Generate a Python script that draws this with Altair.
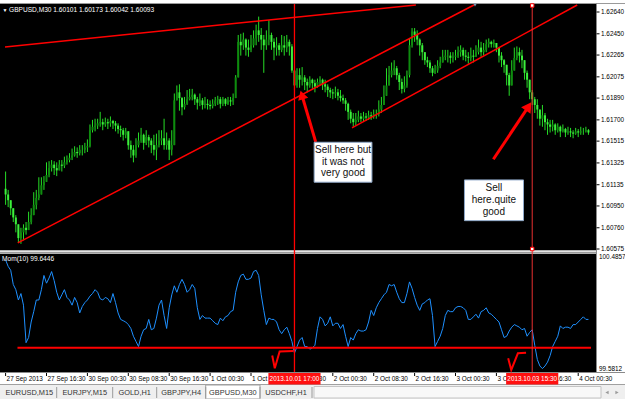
import altair as alt
import pandas as pd

# ---------------- data (prices in pips above 1.60000) ----------------
close_pips = [105,100,93,85,79,67,72,76,74,81,87,96,102,105,113,116,122,128,131,128,126,131,130,133,135,137,139,142,141,144,
              144,146,147,161,164,165,167,168,166,168,167,169,167,165,162,161,157,160,148,144,139,148,152,157,150,155,152,148,
              144,148,152,154,148,152,144,148,187,194,189,181,184,188,190,192,188,185,187,183,184,183,182,184,187,188,184,188,
              184,187,186,189,207,238,235,240,233,231,235,241,248,244,240,235,240,244,238,233,235,231,235,233,238,234,213,200,209,
              205,207,203,200,205,202,199,203,205,201,199,196,194,193,194,191,189,187,184,177,171,168,170,173,171,173,172,174,173,
              175,175,179,183,191,200,209,213,215,209,203,197,200,209,235,247,244,240,235,229,222,220,215,211,213,217,220,225,226,
              226,224,225,226,229,231,226,225,224,226,225,229,233,229,231,236,238,236,237,233,226,222,218,209,200,213,224,229,226,
              222,211,205,194,188,183,179,171,174,168,166,164,166,161,164,160,162,159,160,159,158,160,159,160,160,161,159]
high_pips = [125,109,100,92,87,79,76,79,81,90,93,107,109,120,120,121,133,134,135,134,133,135,135,138,139,141,145,147,146,148,
             148,150,153,166,170,171,171,177,171,172,171,173,170,169,167,165,163,163,154,152,148,154,159,163,158,161,157,154,
             157,158,161,161,171,159,154,161,193,200,201,190,190,196,197,197,193,190,193,189,190,188,187,188,190,191,190,190,
             189,190,190,193,209,244,245,246,241,240,244,248,253,260,250,244,248,257,246,241,242,237,244,243,244,240,236,211,215,
             215,216,209,206,208,206,205,206,208,206,205,201,198,197,199,197,196,192,189,185,179,176,176,178,176,177,176,178,177,
             179,179,187,190,200,215,217,220,222,217,211,206,208,213,241,250,250,248,241,237,226,225,222,217,218,222,225,231,231,
             231,229,229,231,234,235,233,231,229,233,231,235,240,238,237,240,241,239,240,237,233,229,223,217,211,222,233,234,233,
             231,220,213,200,196,190,188,179,183,176,171,170,170,167,167,165,166,163,164,163,161,163,162,164,163,164,162]
low_pips = [96,94,87,81,72,63,62,65,70,74,79,87,92,100,107,109,118,120,125,122,121,126,125,128,131,133,135,138,137,139,
            139,141,142,146,159,160,162,164,161,164,162,164,162,160,158,155,152,154,144,137,133,137,146,150,144,148,146,141,
            139,135,146,148,144,144,135,139,152,187,178,174,179,183,187,187,183,179,182,179,180,179,179,180,182,183,180,182,
            182,183,182,183,189,207,226,231,226,225,229,233,235,238,231,211,231,235,231,222,226,226,229,226,229,226,211,196,198,
            198,200,196,194,198,196,194,198,200,196,194,190,189,188,189,187,186,184,178,170,167,164,165,168,168,169,169,170,170,
            171,171,173,176,183,191,200,207,209,205,196,193,194,198,207,233,238,235,226,222,218,216,211,208,210,211,215,220,222,
            220,219,220,222,224,225,222,221,219,221,220,225,227,225,226,229,233,233,233,229,220,216,211,200,191,200,215,222,220,
            215,205,198,188,183,176,171,165,164,161,157,159,160,157,159,155,159,155,157,155,154,157,155,157,157,159,157]
first_open_pips = 110

mom_values = [100.44,100.39,100.36,100.25,100.21,100.13,100.18,100.09,99.80,99.84,99.96,100.04,100.13,100.13,100.21,100.32,
              100.26,100.30,100.35,100.28,100.19,100.13,100.17,100.21,100.15,100.13,100.09,100.15,100.11,100.03,100.08,100.11,
              100.13,100.16,100.18,100.21,100.19,100.14,100.13,100.15,100.14,100.11,100.18,100.11,100.03,99.98,99.97,99.96,
              99.94,99.91,99.85,99.81,99.77,99.85,99.90,99.91,99.98,99.90,99.91,99.99,100.09,100.13,100.01,99.91,100.07,
              100.17,100.24,100.19,100.25,100.29,100.25,100.19,100.21,100.25,100.22,100.07,99.98,100.01,99.99,99.99,99.99,
              99.97,99.95,99.94,99.99,99.97,100.00,100.01,100.04,100.05,100.19,100.27,100.32,100.33,100.29,100.29,100.30,
              100.35,100.36,100.32,100.17,100.05,99.94,99.99,99.98,99.98,99.96,99.90,99.87,99.90,99.92,99.87,99.81,99.72,
              99.77,99.82,99.84,99.77,99.77,99.75,99.76,99.78,99.91,100.00,99.98,99.93,99.95,100.00,99.93,99.95,99.95,99.91,
              99.94,99.85,99.77,99.84,99.82,99.87,99.90,99.89,99.89,99.90,99.96,100.05,100.01,100.07,100.11,100.14,100.17,
              100.19,100.25,100.24,100.25,100.19,100.14,100.11,100.11,100.18,100.27,100.22,100.15,100.09,100.05,100.10,100.11,
              100.13,100.14,100.01,99.77,99.81,99.85,99.91,100.01,100.05,100.04,100.04,100.07,100.08,100.08,100.07,100.05,
              99.98,99.98,100.00,100.02,99.99,100.04,100.05,100.07,100.03,100.02,100.00,99.98,99.96,99.90,99.84,99.85,99.89,
              99.92,99.94,99.93,99.92,99.90,99.91,99.85,99.88,99.90,99.78,99.67,99.62,99.60,99.62,99.65,99.70,99.77,99.81,
              99.85,99.93,99.91,99.92,99.92,99.91,99.94,99.94,99.96,99.98,100.00,99.98,99.98]

price_ticks = ["1.62640", "1.62450", "1.62265", "1.62075", "1.61890", "1.61700",
               "1.61515", "1.61325", "1.61135", "1.60950", "1.60760", "1.60575"]
mom_ticks = ["100.4857", "99.5812"]
time_tick_idx = [0, 16, 32, 48, 64, 80, 96, 112, 128, 144, 160, 176, 192, 208, 224]
time_tick_labels = ["27 Sep 2013", "27 Sep 16:30", "30 Sep 00:30", "30 Sep 08:30", "30 Sep 16:30",
                    "1 Oct 00:30", "1 Oct 08:30", "1 Oct 16:30", "2 Oct 00:30", "2 Oct 08:30",
                    "2 Oct 16:30", "3 Oct 00:30", "3 Oct 08:30", "3 Oct 16:30", "4 Oct 00:30"]

trend_id = ["L1", "L1", "L2", "L2", "L3", "L3"]
trend_idx = [-0.23, 160.5, 4.77, 183.2, 135.5, 223.6]
trend_pips = [233.5, 270.1, 62.8, 270.1, 163.0, 270.1]

vline_idx = [113, 206]
vline_labels = ["2013.10.01 17:00", "2013.10.03 15:30"]

mom_level = 99.761
mom_level_from, mom_level_to = 4.65, 229

check_id = ["C1"] * 4 + ["C2"] * 4
check_idx = [104.3, 105.3, 107.2, 112.6, 196.6, 197.8, 200.4, 203.6]
check_mom = [99.701, 99.602, 99.732, 99.736, 99.679, 99.589, 99.718, 99.723]

arrow_id = ["A1", "A1", "A2", "A2"]
arrow_idx = [121.3, 115.9, 190.8, 204.6]
arrow_pips = [150.8, 191.7, 135.7, 181.7]

box_idx1 = [120.7, 179.5]
box_idx2 = [143.3, 202.6]
box_top = [150.5, 117.7]
box_bottom = [115.7, 82.2]
note_lines = ["Sell here but", "it was not", "very good", "Sell", "here.quite", "good"]
note_idx = [132.0, 132.0, 132.0, 191.0, 191.0, 191.0]
note_pips = [143.8, 133.3, 123.3, 110.4, 100.3, 90.1]

tabs = ["EURUSD,M15", "EURJPY,M15", "GOLD,H1", "GBPJPY,H4", "GBPUSD,M30", "USDCHF,H1"]

# ---------------- build tables ----------------
def px(p):
    return 1.6 + p / 10000.0

opens = [first_open_pips] + close_pips[:-1]
rows = []
for i, c in enumerate(close_pips):
    o = opens[i]
    hi = max(high_pips[i], o, c)
    lo = min(low_pips[i], o, c)
    rows.append(dict(idx=i, high=px(hi), low=px(lo), blo=px(min(o, c)), bhi=px(max(o, c)),
                     dir="up" if c >= o else "down"))
candles = pd.DataFrame(rows)

mom_df = pd.DataFrame({"idx": list(range(len(mom_values))), "mom": mom_values})
trend_df = pd.DataFrame({"line": trend_id, "idx": trend_idx, "price": [px(p) for p in trend_pips]})
vline_df = pd.DataFrame({"idx": vline_idx, "label": vline_labels,
                         "x1": [v - 10.2 for v in vline_idx], "x2": [v + 10.2 for v in vline_idx]})
level_df = pd.DataFrame({"x1": [mom_level_from], "x2": [mom_level_to], "level": [mom_level]})
check_df = pd.DataFrame({"c": check_id, "idx": check_idx, "mom": check_mom})
arrow_df = pd.DataFrame({"a": arrow_id, "idx": arrow_idx, "price": [px(p) for p in arrow_pips]})
box_df = pd.DataFrame({"x1": box_idx1, "x2": box_idx2, "top": [px(p) for p in box_top],
                       "bottom": [px(p) for p in box_bottom]})
note_df = pd.DataFrame({"t": note_lines, "idx": note_idx, "price": [px(p) for p in note_pips]})
pt_df = pd.DataFrame({"label": price_ticks, "price": [float(s) for s in price_ticks]})
mt_df = pd.DataFrame({"label": mom_ticks, "mom": [float(s) for s in mom_ticks]})
tt_df = pd.DataFrame({"idx": time_tick_idx, "label": time_tick_labels})

# ---------------- scales ----------------
XS = alt.Scale(domain=[0, 229], range=[0.6, 596.0], zero=False, nice=False)
PS = alt.Scale(domain=[1.60575, 1.62640], range=[249, 12], zero=False, nice=False)
MS = alt.Scale(domain=[99.5812, 100.4857], range=[371, 254], zero=False, nice=False)
FONT = "Liberation Sans"
RED = "#FF0000"

one = pd.DataFrame({"k": [1]})


def X(f="idx"):
    return alt.X(f"{f}:Q", scale=XS, axis=None)


def box(x1, x2, y1, y2, color, stroke=None):
    kw = dict(color=color)
    if stroke:
        kw.update(stroke=stroke, strokeWidth=1)
    return alt.Chart(one).mark_rect(**kw).encode(
        x=alt.value(x1), x2=alt.value(x2), y=alt.value(y1), y2=alt.value(y2))


def hline(x1, x2, y, color, w=1):
    return alt.Chart(one).mark_rule(color=color, strokeWidth=w).encode(
        x=alt.value(x1), x2=alt.value(x2), y=alt.value(y))


def vline(x, y1, y2, color, w=1):
    return alt.Chart(one).mark_rule(color=color, strokeWidth=w).encode(
        x=alt.value(x), y=alt.value(y1), y2=alt.value(y2))


def label(txt, x, y, size=6.5, color="#FFFFFF", align="left"):
    return alt.Chart(one).mark_text(text=txt, font=FONT, fontSize=size, color=color, align=align,
                                    baseline="middle").encode(x=alt.value(x), y=alt.value(y))


layers = []
# window chrome
layers += [
    box(0, 596, 4, 250.5, "#000000"),
    box(0, 596, 253.5, 372, "#000000"),
    box(0, 596, 250.5, 253.5, "#E4E4E4"),
    hline(0, 625, 3.5, "#9A9A9A"),
    hline(0, 596, 252.5, "#9A9A9A"),
    vline(596.5, 3, 373, "#8A8A8A"),
    hline(0, 625, 372.5, "#8A8A8A"),
    box(0, 625, 384, 399, "#EFEFEF"),
    hline(0, 625, 384.5, "#A0A0A0"),
]

# candles
layers.append(alt.Chart(candles).mark_rule(color="#26DD26", strokeWidth=1).encode(
    x=X(), y=alt.Y("low:Q", scale=PS, axis=None), y2="high:Q"))
layers.append(alt.Chart(candles).mark_bar(width=2).encode(
    x=X(), y=alt.Y("blo:Q", scale=PS, axis=None), y2="bhi:Q",
    color=alt.Color("dir:N", scale=alt.Scale(domain=["up", "down"], range=["#0E8C0E", "#3CF03C"]),
                    legend=None)))

# trend lines
layers.append(alt.Chart(trend_df).mark_line(color=RED, strokeWidth=1.5).encode(
    x=X(), y=alt.Y("price:Q", scale=PS, axis=None), detail="line:N"))

# momentum
layers.append(alt.Chart(mom_df).mark_line(color="#1E90FF", strokeWidth=1).encode(
    x=X(), y=alt.Y("mom:Q", scale=MS, axis=None)))
layers.append(alt.Chart(level_df).mark_rule(color=RED, strokeWidth=2).encode(
    x=X("x1"), x2="x2:Q", y=alt.Y("level:Q", scale=MS, axis=None)))
layers.append(alt.Chart(check_df).mark_line(color=RED, strokeWidth=2).encode(
    x=X(), y=alt.Y("mom:Q", scale=MS, axis=None), detail="c:N"))

# vertical lines
layers.append(alt.Chart(vline_df.iloc[[0]]).mark_rule(color=RED, strokeWidth=1.3).encode(
    x=X(), y=alt.value(4), y2=alt.value(372)))
layers.append(alt.Chart(vline_df.iloc[[1]]).mark_rule(color="#E83030", strokeWidth=1).encode(
    x=X(), y=alt.value(4), y2=alt.value(372)))
for yy in (5.5, 249):
    layers.append(alt.Chart(vline_df.iloc[[1]]).mark_square(size=12, fill="white", stroke=RED,
                                                            strokeWidth=1, opacity=1).encode(
        x=X(), y=alt.value(yy)))

# arrows
layers.append(alt.Chart(arrow_df).mark_line(color=RED, strokeWidth=3).encode(
    x=X(), y=alt.Y("price:Q", scale=PS, axis=None), detail="a:N"))
layers.append(alt.Chart(arrow_df.iloc[[1]]).mark_point(shape="triangle-up", filled=True, size=110,
                                                     color=RED, opacity=1, angle=343).encode(
    x=X(), y=alt.Y("price:Q", scale=PS, axis=None)))
layers.append(alt.Chart(arrow_df.iloc[[3]]).mark_point(shape="triangle-up", filled=True, size=130,
                                                     color=RED, opacity=1, angle=34).encode(
    x=X(), y=alt.Y("price:Q", scale=PS, axis=None)))

# note boxes
layers.append(alt.Chart(box_df).mark_rect(fill="white", stroke="#8FA8C8", strokeWidth=1).encode(
    x=X("x1"), x2="x2:Q", y=alt.Y("top:Q", scale=PS, axis=None), y2="bottom:Q"))
layers.append(alt.Chart(note_df).mark_text(font=FONT, fontSize=10, color="#111111", align="center",
                                           baseline="middle").encode(
    x=X(), y=alt.Y("price:Q", scale=PS, axis=None), text="t:N"))

# price axis
layers.append(alt.Chart(pt_df).mark_rule(color="#000000").encode(
    x=alt.value(596.5), x2=alt.value(599.5), y=alt.Y("price:Q", scale=PS, axis=None)))
layers.append(alt.Chart(pt_df).mark_text(font=FONT, fontSize=6.4, color="#000000", align="left",
                                         baseline="middle").encode(
    x=alt.value(601), y=alt.Y("price:Q", scale=PS, axis=None), text="label:N"))
layers.append(alt.Chart(mt_df.iloc[[0]]).mark_text(font=FONT, fontSize=6.4, color="#000000", align="left",
                                                  baseline="middle", dy=3).encode(
    x=alt.value(599), y=alt.Y("mom:Q", scale=MS, axis=None), text="label:N"))
layers.append(alt.Chart(mt_df.iloc[[1]]).mark_text(font=FONT, fontSize=6.4, color="#000000", align="left",
                                                  baseline="middle", dy=-2).encode(
    x=alt.value(599), y=alt.Y("mom:Q", scale=MS, axis=None), text="label:N"))

# time axis
layers.append(alt.Chart(tt_df).mark_rule(color="#000000").encode(
    x=X(), y=alt.value(373), y2=alt.value(376)))
layers.append(alt.Chart(tt_df).mark_text(font=FONT, fontSize=6.4, color="#000000", align="left",
                                         baseline="middle", dx=1).encode(
    x=X(), y=alt.value(379), text="label:N"))
layers.append(alt.Chart(vline_df).mark_rect(color="#FF1010").encode(
    x=X("x1"), x2="x2:Q", y=alt.value(373), y2=alt.value(384.5)))
layers.append(alt.Chart(vline_df).mark_text(font=FONT, fontSize=6.4, color="#FFFFFF", align="center",
                                           baseline="middle").encode(
    x=X(), y=alt.value(379), text="label:N"))

# headers
layers.append(label("\u25BC", 2.5, 9.5, size=5))
layers.append(label("GBPUSD,M30  1.60101 1.60173 1.60042 1.60093", 9, 9.5, size=6.6))
layers.append(label("Mom(10) 99.6446", 2, 258.5, size=6.6))
layers.append(alt.Chart(one).mark_point(shape="triangle-down", filled=True, size=14, color="#8095B0",
                                        opacity=1).encode(x=alt.value(475), y=alt.value(5)))

# tabs
tab_edges = [2, 56.7, 112.7, 156.7, 205.7, 260, 312]
layers.append(box(205.7, 260, 385, 399, "#FFFFFF", stroke="#A0A0A0"))
layers.append(box(314, 601, 386.5, 398, "#F8F8F8", stroke="#C4C4C4"))
for e in tab_edges[1:]:
    layers.append(vline(e, 387, 398, "#9A9A9A"))
for k, t in enumerate(tabs):
    cx = (tab_edges[k] + tab_edges[k + 1]) / 2
    layers.append(label(t, cx, 392.5, size=7.4, color="#333333", align="center"))
layers.append(alt.Chart(one).mark_point(shape="triangle-left", filled=True, size=14, color="#9A9A9A",
                                        opacity=1).encode(x=alt.value(607), y=alt.value(392.5)))
layers.append(alt.Chart(one).mark_point(shape="triangle-right", filled=True, size=14, color="#9A9A9A",
                                        opacity=1).encode(x=alt.value(617), y=alt.value(392.5)))

chart = alt.layer(*layers).resolve_scale(y="independent").properties(
    width=625, height=399, autosize=alt.AutoSizeParams(type="none"), padding=0, background="white"
).configure_view(stroke=None)

chart.save("out.html", embed_options={"renderer": "svg", "actions": False})
